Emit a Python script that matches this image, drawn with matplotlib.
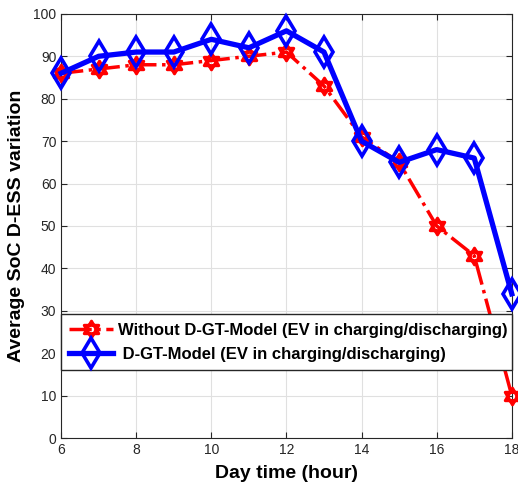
import numpy as np
import matplotlib
matplotlib.use("Agg")
import matplotlib.pyplot as plt
from matplotlib.path import Path

# ── Data ──────────────────────────────────────────────────────────────────────
hours = [6, 7, 8, 9, 10, 11, 12, 13, 14, 15, 16, 17, 18]
soc_without = [86, 87, 88, 88, 89, 90, 91, 83, 71, 65, 50, 43, 10]
soc_dgt = [86, 90, 91, 91, 94, 92, 96, 91, 70, 65, 68, 66, 34]
x_ticks = [6, 8, 10, 12, 14, 16, 18]
y_ticks = list(range(0, 101, 10))

plt.rcParams["font.family"] = ["Liberation Sans", "DejaVu Sans"]

# hexagram marker: two overlapping triangles
ang_up = np.deg2rad([90, 210, 330, 90])
ang_dn = np.deg2rad([270, 30, 150, 270])
tri_up = Path(np.c_[np.cos(ang_up), np.sin(ang_up)], closed=True)
tri_dn = Path(np.c_[np.cos(ang_dn), np.sin(ang_dn)], closed=True)
hexagram = Path.make_compound_path(tri_up, tri_dn)

fig = plt.figure(figsize=(5.18, 4.95), dpi=100)
ax = fig.add_axes([0.118, 0.115, 0.870, 0.857])

ax.plot(hours, soc_without, color="red", linestyle="-.", linewidth=2.5,
        marker=hexagram, markersize=12, markerfacecolor="none",
        markeredgecolor="red", markeredgewidth=2.2, clip_on=False, zorder=3,
        label="Without D-GT-Model (EV in charging/discharging)")
ax.plot(hours, soc_dgt, color="blue", linestyle="-", linewidth=3.8,
        marker="d", markersize=15, markerfacecolor="none",
        markeredgecolor="blue", markeredgewidth=2.6, clip_on=False, zorder=4,
        label=" D-GT-Model (EV in charging/discharging)")

ax.set_xlim(6, 18)
ax.set_ylim(0, 100)
ax.set_xticks(x_ticks)
ax.set_yticks(y_ticks)
ax.tick_params(direction="in", top=True, right=True, labelsize=10,
               colors="#262626", length=4)
ax.grid(True, color="#e0e0e0", linewidth=0.8)
ax.set_axisbelow(True)
for s in ax.spines.values():
    s.set_color("#262626")
    s.set_linewidth(0.8)

ax.set_xlabel("Day time (hour)", fontsize=14, fontweight="bold", labelpad=6)
ax.set_ylabel("Average SoC D-ESS variation", fontsize=14, fontweight="bold",
              labelpad=6)

leg = ax.legend(loc="lower left", bbox_to_anchor=(0.0, 0.16, 1.0, 0.128),
                mode="expand", borderaxespad=0,
                prop={"weight": "bold", "size": 12},
                fancybox=False, edgecolor="#262626", framealpha=1,
                handlelength=2.6, borderpad=0.5, labelspacing=0.55,
                handletextpad=0.3)
leg.get_frame().set_linewidth(1.0)
leg.set_zorder(5)

fig.savefig("out.png", dpi=100)
